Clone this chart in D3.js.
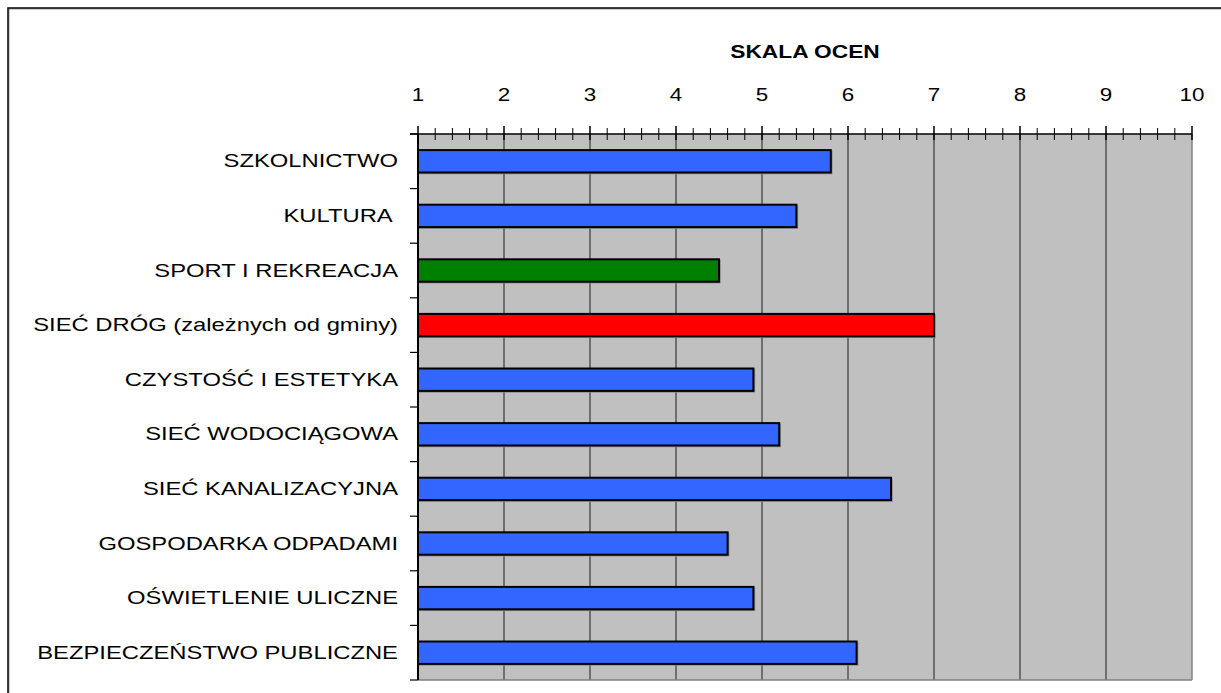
<!DOCTYPE html>
<html>
<head>
<meta charset="utf-8">
<script src="https://cdn.jsdelivr.net/npm/d3@7"></script>
<style>
  html, body { margin: 0; padding: 0; background: #fff; }
  svg { display: block; }
  text { font-family: "Liberation Sans", Arial, sans-serif; fill: #000; }
</style>
</head>
<body>
<script>
// Oceny poszczególnych dziedzin (skala 1–10)
const categories = [
  "SZKOLNICTWO",
  "KULTURA ",
  "SPORT I REKREACJA",
  "SIEĆ DRÓG (zależnych od gminy)",
  "CZYSTOŚĆ I ESTETYKA",
  "SIEĆ WODOCIĄGOWA",
  "SIEĆ KANALIZACYJNA",
  "GOSPODARKA ODPADAMI",
  "OŚWIETLENIE ULICZNE",
  "BEZPIECZEŃSTWO PUBLICZNE"
];
const scores = [5.8, 5.4, 4.5, 7.0, 4.9, 5.2, 6.5, 4.6, 4.9, 6.1];
const barColors = ["#3366FF", "#3366FF", "#008000", "#FF0000", "#3366FF",
                   "#3366FF", "#3366FF", "#3366FF", "#3366FF", "#3366FF"];
const tickValues = [1, 2, 3, 4, 5, 6, 7, 8, 9, 10];
const minorTickValues = d3.range(10, 101, 2).map(v => v / 10).filter(v => !Number.isInteger(v));
const axisTitle = "SKALA OCEN";

const W = 1221, H = 693;
const plot = { left: 418, right: 1192, top: 134, bottom: 680 };
// szeroki krój pisma (rozciągnięty w poziomie)
const stretchLabels = 1.36, stretchTicks = 1.28, stretchTitle = 1.3;

const svg = d3.select("body").append("svg")
  .attr("width", W).attr("height", H);

// Ramka wykresu
svg.append("rect")
  .attr("x", 9).attr("y", 9).attr("width", W + 20).attr("height", H + 20)
  .attr("fill", "none").attr("stroke", "#999").attr("stroke-width", 1);
svg.append("rect")
  .attr("x", 8).attr("y", 8).attr("width", W + 20).attr("height", H + 20)
  .attr("fill", "none").attr("stroke", "#000").attr("stroke-width", 1.5);

const x = d3.scaleLinear().domain([1, 10]).range([plot.left, plot.right]);
const y = d3.scaleBand().domain(categories).range([plot.top, plot.bottom]).padding(0);

// Tło obszaru kreślenia
svg.append("rect")
  .attr("x", plot.left).attr("y", plot.top)
  .attr("width", plot.right - plot.left).attr("height", plot.bottom - plot.top)
  .attr("fill", "#C0C0C0");

// Linie siatki
svg.append("g").selectAll("line")
  .data(tickValues.filter(v => v > 1 && v < 10))
  .join("line")
  .attr("x1", d => x(d)).attr("x2", d => x(d))
  .attr("y1", plot.top).attr("y2", plot.bottom)
  .attr("stroke", "#555").attr("stroke-width", 1.5);

// Krawędzie obszaru
svg.append("line")
  .attr("x1", plot.right).attr("x2", plot.right)
  .attr("y1", plot.top).attr("y2", plot.bottom)
  .attr("stroke", "#808080").attr("stroke-width", 1.5);
svg.append("line")
  .attr("x1", plot.left).attr("x2", plot.right)
  .attr("y1", plot.bottom).attr("y2", plot.bottom)
  .attr("stroke", "#808080").attr("stroke-width", 1.5);

// Słupki
const barH = y.bandwidth() * 0.41;
const bars = svg.append("g");
bars.selectAll("rect.shadow")
  .data(categories)
  .join("rect")
  .attr("class", "shadow")
  .attr("x", x(1) + 1)
  .attr("y", d => y(d) + (y.bandwidth() - barH) / 2 + 1)
  .attr("width", (d, i) => x(scores[i]) - x(1))
  .attr("height", barH)
  .attr("fill", "none").attr("stroke", "#888").attr("stroke-width", 1.5);
bars.selectAll("rect.bar")
  .data(categories)
  .join("rect")
  .attr("class", "bar")
  .attr("x", x(1))
  .attr("y", d => y(d) + (y.bandwidth() - barH) / 2)
  .attr("width", (d, i) => x(scores[i]) - x(1))
  .attr("height", barH)
  .attr("fill", (d, i) => barColors[i])
  .attr("stroke", "#000").attr("stroke-width", 2);

// Oś kategorii
const yAxis = svg.append("g").attr("transform", `translate(${plot.left},0)`);
yAxis.append("line")
  .attr("x1", 0).attr("x2", 0).attr("y1", plot.top).attr("y2", plot.bottom)
  .attr("stroke", "#000").attr("stroke-width", 2);
const bounds = categories.map(c => y(c)).concat([plot.bottom]);
yAxis.selectAll("line.tick")
  .data(bounds)
  .join("line")
  .attr("class", "tick")
  .attr("x1", -8).attr("x2", 0)
  .attr("y1", d => d).attr("y2", d => d)
  .attr("stroke", "#000").attr("stroke-width", 1.2);
yAxis.selectAll("text")
  .data(categories)
  .join("text")
  .attr("transform", d => `translate(-20,${y(d) + y.bandwidth() / 2}) scale(${stretchLabels},1)`)
  .attr("dy", "0.35em")
  .attr("text-anchor", "end")
  .style("white-space", "pre")
  .attr("font-size", "17.5px")
  .text(d => d);

// Oś wartości (górna)
const xAxis = svg.append("g");
xAxis.append("line")
  .attr("x1", plot.left - 8).attr("x2", plot.right)
  .attr("y1", plot.top).attr("y2", plot.top)
  .attr("stroke", "#000").attr("stroke-width", 1.5);
xAxis.selectAll("line.major")
  .data(tickValues)
  .join("line")
  .attr("class", "major")
  .attr("x1", d => x(d)).attr("x2", d => x(d))
  .attr("y1", plot.top - 8).attr("y2", plot.top + 6)
  .attr("stroke", "#000").attr("stroke-width", 1.5);
xAxis.selectAll("line.minor")
  .data(minorTickValues)
  .join("line")
  .attr("class", "minor")
  .attr("x1", d => x(d)).attr("x2", d => x(d))
  .attr("y1", plot.top - 6).attr("y2", plot.top + 6)
  .attr("stroke", "#000").attr("stroke-width", 1);
xAxis.selectAll("text")
  .data(tickValues)
  .join("text")
  .attr("transform", d => `translate(${x(d)},101) scale(${stretchTicks},1)`)
  .attr("text-anchor", "middle")
  .attr("font-size", "17.5px")
  .text(d => d);

svg.append("text")
  .attr("transform", `translate(${(plot.left + plot.right) / 2},58) scale(${stretchTitle},1)`)
  .attr("text-anchor", "middle")
  .attr("font-size", "17.5px")
  .attr("font-weight", "bold")
  .text(axisTitle);
</script>
</body>
</html>
